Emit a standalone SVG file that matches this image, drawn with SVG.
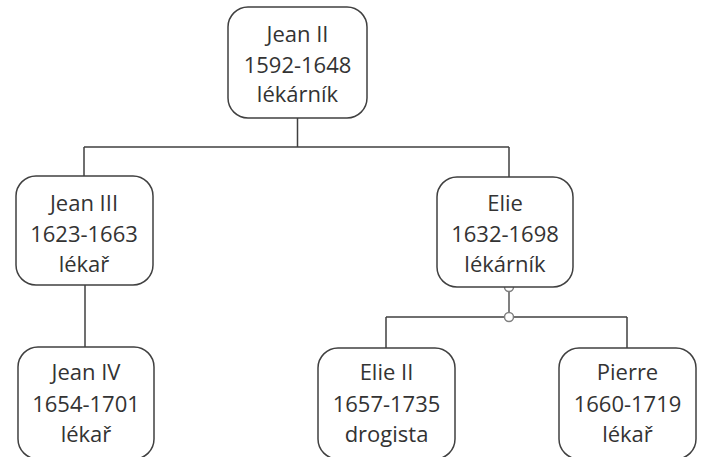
<svg xmlns="http://www.w3.org/2000/svg" width="701" height="457" viewBox="0 0 701 457">
<style>
.box{fill:#fff;stroke:#404040;stroke-width:1.5}
.lbl{font-family:"Open Sans","Liberation Sans",Arial,sans-serif;font-size:22px;fill:#333;text-anchor:middle}
.ln{stroke:#404040;stroke-width:1.5;fill:none}
.h{fill:#fff;stroke:#808080;stroke-width:1.5}
</style>
<rect width="701" height="457" fill="#fff"/>
<g id="connectors">
<path class="ln" d="M297.5,118 V147 M84,147 H509 M84,147 V176 M509,147 V177"/>
<path class="ln" d="M85,285 V347"/>
<path d="M509,287 V317" stroke="#808080" stroke-width="2" fill="none"/>
<path class="ln" d="M386,317 H627 M386,317 V348 M627,317 V348"/>
<circle class="h" cx="509" cy="287" r="4.5"/>
<circle class="h" cx="509" cy="317" r="4.5"/>
</g>
<g id="jean2">
<rect class="box" x="228" y="7" width="139" height="111" rx="20"/>
<text class="lbl" x="297.5" y="42">Jean II</text>
<text class="lbl" x="297.5" y="73">1592-1648</text>
<text class="lbl" x="297.5" y="102">lékárník</text>
</g>
<g id="jean3">
<rect class="box" x="16" y="176" width="137" height="109" rx="20"/>
<text class="lbl" x="84" y="211">Jean III</text>
<text class="lbl" x="84" y="242">1623-1663</text>
<text class="lbl" x="84" y="272">lékař</text>
</g>
<g id="elie">
<rect class="box" x="437" y="177" width="136" height="110" rx="20"/>
<text class="lbl" x="505" y="211">Elie</text>
<text class="lbl" x="505" y="242">1632-1698</text>
<text class="lbl" x="505" y="272">lékárník</text>
</g>
<g id="jean4">
<rect class="box" x="18" y="347" width="136" height="112" rx="20"/>
<text class="lbl" x="86" y="380">Jean IV</text>
<text class="lbl" x="86" y="412">1654-1701</text>
<text class="lbl" x="86" y="442">lékař</text>
</g>
<g id="elie2">
<rect class="box" x="318" y="348" width="137" height="111" rx="20"/>
<text class="lbl" x="386.5" y="380">Elie II</text>
<text class="lbl" x="386.5" y="412">1657-1735</text>
<text class="lbl" x="386.5" y="442">drogista</text>
</g>
<g id="pierre">
<rect class="box" x="559" y="348" width="137" height="111" rx="20"/>
<text class="lbl" x="627.5" y="380">Pierre</text>
<text class="lbl" x="627.5" y="412">1660-1719</text>
<text class="lbl" x="627.5" y="442">lékař</text>
</g>
</svg>
